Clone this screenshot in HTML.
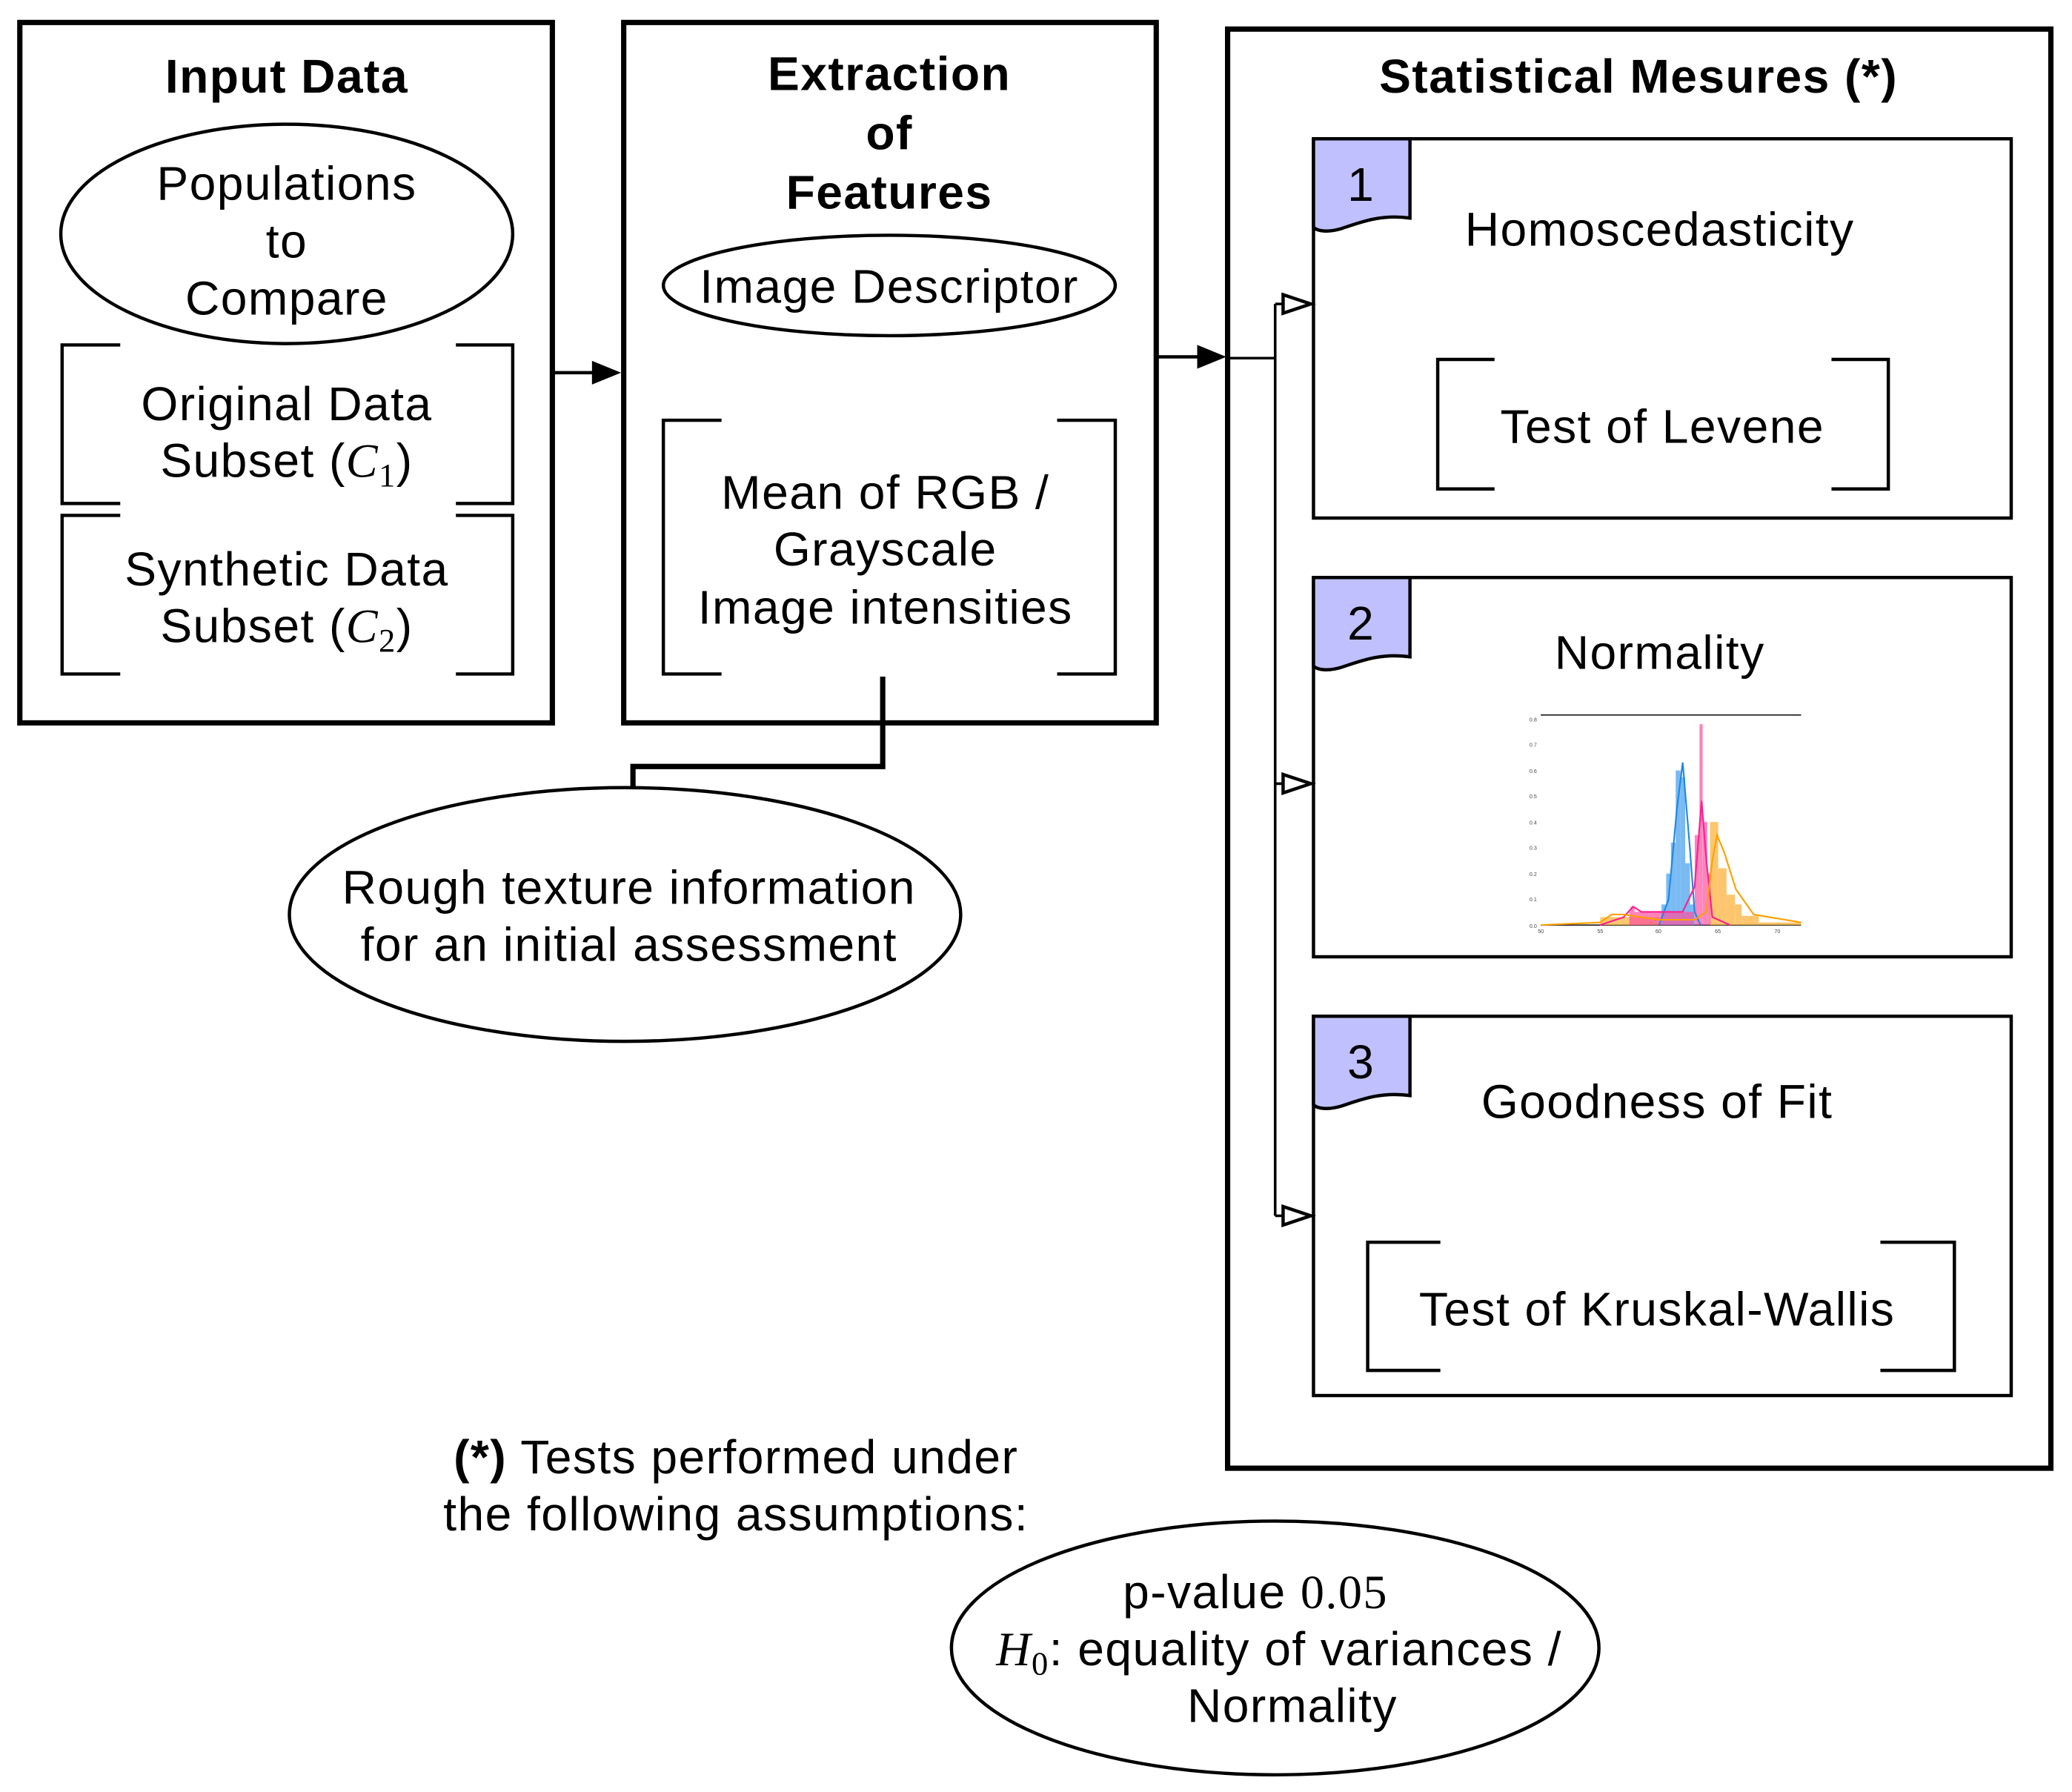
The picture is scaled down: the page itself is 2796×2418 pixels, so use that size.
<!DOCTYPE html>
<html><head><meta charset="utf-8"><style>html,body{margin:0;padding:0;background:#fff}svg{display:block}</style></head><body>
<svg width="2796" height="2418" viewBox="0 0 1568 1356" xmlns="http://www.w3.org/2000/svg" font-family="Liberation Sans, sans-serif">
<g fill="none" stroke="#000">
<rect x="15" y="17" width="403" height="530" stroke-width="4"/>
<rect x="472" y="17" width="403" height="530" stroke-width="4"/>
<rect x="929" y="22" width="623" height="1089" stroke-width="4"/>
<ellipse cx="217" cy="177" rx="171" ry="83" stroke-width="2.5"/>
<ellipse cx="673" cy="216" rx="171" ry="38" stroke-width="2.5"/>
<ellipse cx="473" cy="692" rx="254" ry="96" stroke-width="2.5"/>
<ellipse cx="965" cy="1247" rx="245" ry="96" stroke-width="2.5"/>
<g stroke-width="2.5">
<path d="M91,261H47V381H91M345,261H388V381H345"/>
<path d="M91,390H47V510H91M345,390H388V510H345"/>
<path d="M546,318H502V510H546M800,318H844V510H800"/>
<path d="M1131,272H1088V370H1131M1386,272H1429V370H1386"/>
<path d="M1090,940H1035V1037H1090M1423,940H1479V1037H1423"/>
<rect x="994" y="105" width="528" height="287"/>
<rect x="994" y="437" width="528" height="287"/>
<rect x="994" y="769" width="528" height="287"/>
</g>
<path d="M668,512V580H479V597" stroke-width="4"/>
<path d="M418,282H450" stroke-width="2.5"/>
<path d="M875,270H908" stroke-width="2.5"/>
<path d="M928,271H965M965,230V920M965,230H971M965,593H971M965,920H971" stroke-width="2"/>
<g stroke-width="2.5"><path d="M971,223L992,230L971,237Z"/><path d="M971,586L992,593L971,600Z"/><path d="M971,913L992,920L971,927Z"/></g>
</g>
<path d="M448,273L470,282L448,291Z"/>
<path d="M906,261L928,270L906,279Z"/>
<g fill="#c0c0ff" stroke="#000" stroke-width="2.5">
<path d="M994,105H1067V165C1045,162 1030,168 1015,173C1005,176 997,175 994,172Z"/>
<path d="M994,437H1067V497C1045,494 1030,500 1015,505C1005,508 997,507 994,504Z"/>
<path d="M994,769H1067V829C1045,826 1030,832 1015,837C1005,840 997,839 994,836Z"/>
</g>
<g font-size="36" letter-spacing="0.8" text-anchor="middle" fill="#000">
<g font-weight="bold">
<text x="217" y="70">Input Data</text>
<text x="673" y="68">Extraction</text><text x="673" y="113">of</text><text x="673" y="158">Features</text>
<text x="1240" y="70">Statistical Mesures (*)</text>
</g>
<text x="217" y="151">Populations</text><text x="217" y="195">to</text><text x="217" y="238">Compare</text>
<text x="217" y="318">Original Data</text>
<text x="217" y="361">Subset (<tspan font-family="Liberation Serif, serif" font-style="italic">C</tspan><tspan font-family="Liberation Serif, serif" font-size="25" dy="7">1</tspan><tspan dy="-7">)</tspan></text>
<text x="217" y="443">Synthetic Data</text>
<text x="217" y="486">Subset (<tspan font-family="Liberation Serif, serif" font-style="italic">C</tspan><tspan font-family="Liberation Serif, serif" font-size="25" dy="7">2</tspan><tspan dy="-7">)</tspan></text>
<text x="673" y="229">Image Descriptor</text>
<text x="670" y="385">Mean of RGB /</text><text x="670" y="428">Grayscale</text><text x="670" y="472">Image intensities</text>
<text x="476" y="684">Rough texture information</text><text x="476" y="727">for an initial assessment</text>
<text x="1030" y="152">1</text><text x="1030" y="484">2</text><text x="1030" y="816">3</text>
<text x="1256" y="186">Homoscedasticity</text>
<text x="1258" y="335">Test of Levene</text>
<text x="1256" y="506">Normality</text>
<text x="1254" y="846">Goodness of Fit</text>
<text x="1254" y="1003">Test of Kruskal-Wallis</text>
<text x="557" y="1115"><tspan font-weight="bold">(*)</tspan> Tests performed under</text>
<text x="557" y="1158">the following assumptions:</text>
<text x="950" y="1217">p-value <tspan font-family="Liberation Serif, serif">0.05</tspan></text>
<text x="968" y="1260"><tspan font-family="Liberation Serif, serif" font-style="italic">H</tspan><tspan font-family="Liberation Serif, serif" font-size="25" dy="7">0</tspan><tspan dy="-7">: equality of variances /</tspan></text>
<text x="978" y="1303">Normality</text>
</g>
<!-- histogram -->
<g>
<path d="M1166,541H1363" stroke="#222" stroke-width="1"/>
<path d="M1166,700H1363" stroke="#222" stroke-width="1"/>
<g fill="#fdb94a" opacity="0.8">
<rect x="1294" y="622" width="6.3" height="78"/><rect x="1300.3" y="657" width="6.3" height="43"/><rect x="1306.6" y="677" width="6.4" height="23"/><rect x="1313" y="684.4" width="5" height="15.6"/><rect x="1318" y="693" width="13" height="7"/><rect x="1331" y="698" width="32" height="2"/><rect x="1211" y="694" width="45" height="6"/>
</g>
<g fill="#4da3f0" opacity="0.75">
<rect x="1257.3" y="684.4" width="3.6" height="15.6"/><rect x="1260.9" y="661" width="3.6" height="39"/><rect x="1264.5" y="637.6" width="3.6" height="62.4"/><rect x="1268.1" y="583" width="3.6" height="117"/><rect x="1271.7" y="588" width="3.6" height="112"/><rect x="1275.3" y="653.2" width="3.6" height="46.8"/><rect x="1278.9" y="684.4" width="3.6" height="15.6"/>
</g>
<g fill="#ff4fa0" opacity="0.7">
<rect x="1233" y="690" width="49" height="10"/><rect x="1234" y="686" width="3" height="14"/><rect x="1282.5" y="632" width="3.6" height="68"/><rect x="1286.1" y="548" width="2.4" height="152"/><rect x="1288.6" y="622" width="3.4" height="78"/><rect x="1292" y="661" width="2.5" height="39"/>
</g>
<g fill="none" stroke-width="1.2">
<polyline stroke="#1e88e5" points="1255.5,700 1262.7,680.5 1269,612 1273.4,577 1278.8,641.5 1282.4,690 1286.8,700"/>
<polyline stroke="#ff1f8f" points="1210.8,700 1228.7,694 1235.8,686 1242.1,690 1273.4,690 1282.4,671 1287.7,606 1291.3,651 1295.8,694 1309.2,700"/>
<polyline stroke="#ffa000" points="1166,700 1210.8,698 1219.7,692 1228.7,692 1255.5,696 1282.4,696 1291.3,690 1295.8,651 1299.4,632 1304.8,645 1313.7,673 1327.1,692 1363,698"/>
</g>
<g font-size="4" fill="#444" text-anchor="end">
<text x="1163" y="546">0.8</text><text x="1163" y="565">0.7</text><text x="1163" y="585">0.6</text><text x="1163" y="604">0.5</text><text x="1163" y="624">0.4</text><text x="1163" y="643">0.3</text><text x="1163" y="663">0.2</text><text x="1163" y="682">0.1</text><text x="1163" y="702">0.0</text>
</g>
<g font-size="4" fill="#444" text-anchor="middle">
<text x="1166" y="706">50</text><text x="1211" y="706">55</text><text x="1255" y="706">60</text><text x="1300" y="706">65</text><text x="1345" y="706">70</text>
</g>
</g>
</svg>
</body></html>
